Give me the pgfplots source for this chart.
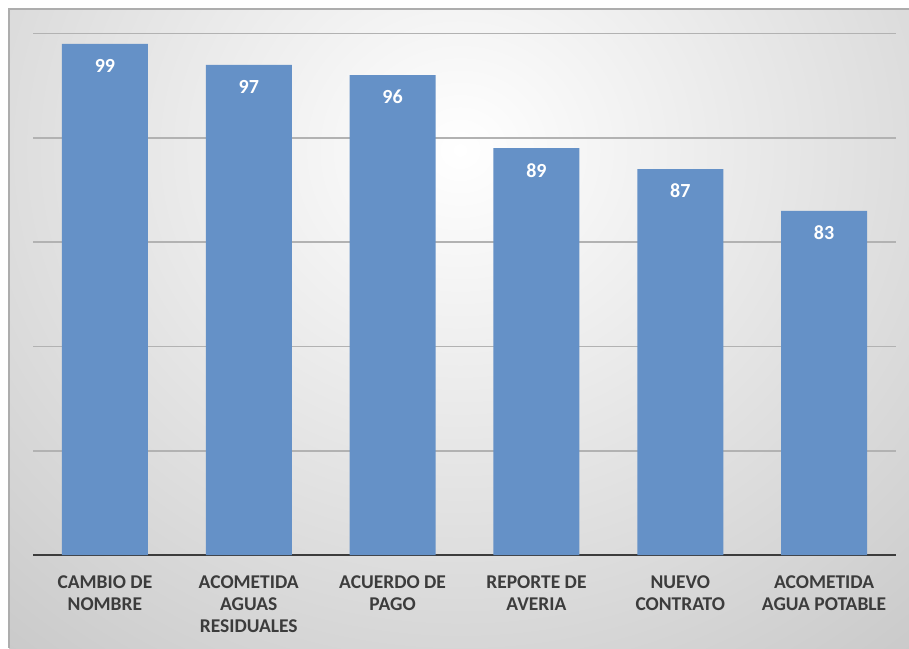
\documentclass[border=0pt]{standalone}
\usepackage{fontspec}
\setmainfont{Carlito}
\usepackage{pgfplots}
\pgfplotsset{compat=1.18}
\definecolor{barblue}{RGB}{101,145,199}
\definecolor{labgray}{RGB}{60,60,60}
\definecolor{gridgray}{RGB}{178,178,178}
\begin{document}
\begin{tikzpicture}
  % page and background frame
  \useasboundingbox (-33pt,-93pt) rectangle (876pt,555pt);
  \fill[white] (-33pt,-93pt) rectangle (876pt,555pt);
  \begin{scope}
    \clip (-24pt,-93pt) rectangle (876pt,546pt);
    \shade[inner color=white, outer color=black!30]
      (427pt-1020pt,405pt-940pt) rectangle (427pt+1020pt,405pt+940pt);
  \end{scope}
  \draw[black!32, line width=1.2pt] (-24pt,-93pt) -- (-24pt,546pt) -- (876pt,546pt);
  \begin{axis}[
    at={(0pt,0pt)}, anchor=south west,
    scale only axis,
    width=863pt, height=521.5pt,
    ymin=50, ymax=100,
    xmin=-0.5, xmax=5.5,
    axis x line*=bottom,
    axis y line*=left,
    y axis line style={draw=none},
    x axis line style={draw=labgray, line width=2.5pt, -},
    ytick={60,70,80,90,100},
    yticklabels={},
    ymajorgrids,
    grid style={draw=gridgray, line width=1.6pt},
    major tick length=0pt,
    xtick=data,
    xticklabels={CAMBIO DE\\NOMBRE, ACOMETIDA\\AGUAS\\RESIDUALES, ACUERDO DE\\PAGO, REPORTE DE\\AVERIA, NUEVO\\CONTRATO, ACOMETIDA\\AGUA POTABLE},
    xticklabel style={align=center, font=\fontsize{19.5}{22}\selectfont\bfseries, text=labgray, yshift=-17pt},
    ybar,
    bar width=86pt,
    /pgf/number format/assume math mode=true,
    nodes near coords,
    nodes near coords style={font=\fontsize{20}{22}\selectfont\bfseries, text=white, anchor=center, yshift=-22pt},
    clip=false,
  ]
    \addplot[fill=barblue, draw=none] coordinates {
      (0,99) (1,97) (2,96) (3,89) (4,87) (5,83)
    };
  \end{axis}
\end{tikzpicture}
\end{document}
